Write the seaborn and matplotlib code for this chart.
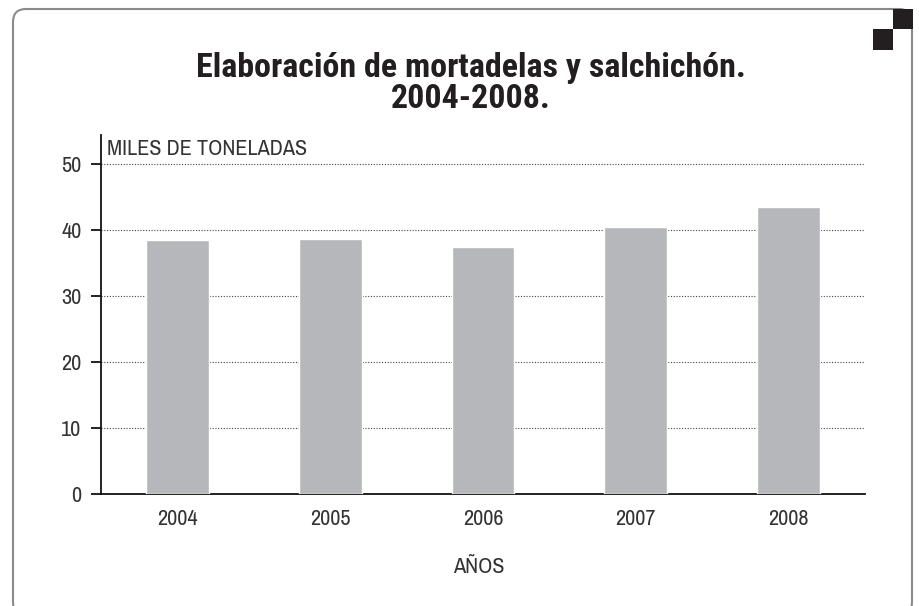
import seaborn as sns
import numpy as np
import matplotlib.pyplot as plt
import pandas as pd
from matplotlib.patches import FancyBboxPatch, Rectangle

years = ['2004', '2005', '2006', '2007', '2008']
miles_toneladas = [38.5, 38.6, 37.4, 40.4, 43.5]

df = pd.DataFrame({'Año': years, 'Toneladas': miles_toneladas})

sns.set_theme(style="white")
plt.rcParams['font.family'] = ['Archivo Narrow', 'DejaVu Sans']

W, H = 919, 606
fig = plt.figure(figsize=(W / 100, H / 100), dpi=100)

# marco redondeado (en pulgadas)
frame = FancyBboxPatch((0.13, -0.09), 8.99, 6.06, boxstyle="round,pad=0,rounding_size=0.13",
                       transform=fig.dpi_scale_trans, fill=False,
                       edgecolor='#8a8a8a', linewidth=1.5)
fig.patches.append(frame)
# cuadros negros arriba a la derecha
fig.patches.append(Rectangle((8.93, 5.77), 0.20, 0.20, transform=fig.dpi_scale_trans,
                             facecolor='#231f20', edgecolor='none', zorder=5))
fig.patches.append(Rectangle((8.73, 5.56), 0.20, 0.21, transform=fig.dpi_scale_trans,
                             facecolor='#231f20', edgecolor='none', zorder=5))

ax = fig.add_axes([101 / W, 1 - 494 / H, (865 - 101) / W, (494 - 135) / H])
sns.barplot(data=df, x='Año', y='Toneladas', color='#b6b7ba', width=0.41,
            saturation=1, ax=ax, zorder=3)

ax.set_ylim(0, 54.4)
ax.set_xlim(-0.5, 4.5)
ax.set_yticks([0, 10, 20, 30, 40, 50])
ax.yaxis.grid(True, linestyle=(0, (1, 1.5)), color='#444444', linewidth=0.8, zorder=0)
ax.set_axisbelow(True)
for s in ['top', 'right']:
    ax.spines[s].set_visible(False)
for s in ['left', 'bottom']:
    ax.spines[s].set_color('#111111')
    ax.spines[s].set_linewidth(1.3)

ax.set_xticks(np.arange(-0.5, 5, 1), minor=True)
ax.tick_params(axis='x', which='major', length=0, pad=11, labelsize=16, labelcolor='#333333')
ax.tick_params(axis='x', which='minor', length=7, width=1.3, color='#111111', direction='out')
ax.tick_params(axis='y', which='major', length=7, width=1.3, color='#111111', direction='out',
               pad=7, labelsize=16, labelcolor='#333333', left=True)

ax.set_xlabel('')
ax.set_ylabel('')
ax.text(0.008, 51.4, 'MILES DE TONELADAS', fontsize=16, color='#333333', ha='left',
        va='baseline', transform=ax.get_yaxis_transform())
fig.text(479 / W, 1 - 573 / H, 'AÑOS', fontsize=16, color='#333333', ha='center', va='baseline')

title_font = ['Roboto Condensed', 'Barlow Condensed', 'DejaVu Sans']
fig.text(471 / W, 1 - 77 / H, 'Elaboración de mortadelas y salchichón.', ha='center',
         va='baseline', fontsize=24.5, fontweight=900, color='#231f20', family=title_font)
fig.text(471 / W, 1 - 108 / H, '2004-2008.', ha='center',
         va='baseline', fontsize=24.5, fontweight=900, color='#231f20', family=title_font)

fig.savefig('out.png', dpi=100)
